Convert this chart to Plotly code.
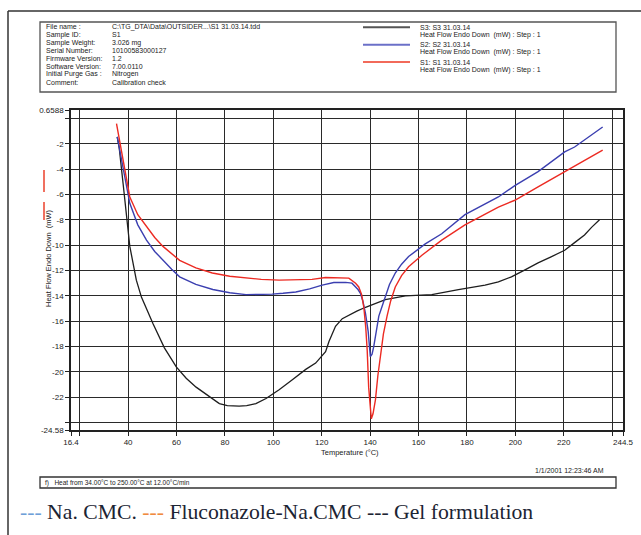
import plotly.graph_objects as go

# ---------------- data ----------------
s1_temp = [35.2, 36.5, 38, 40.7, 44, 47.6, 51, 54.4, 58, 61.3, 68, 74.8, 82, 88.7, 95, 102.4, 110, 116,
           121.6, 126, 131.2, 134, 135.3, 136.5, 137.4, 138.2, 138.8, 139.4, 140.0, 140.5, 141.2, 142.2,
           143.2, 144.3, 145.5, 147.0, 148.5, 150.4, 153, 155.9, 161.4, 169.6, 179.2, 193.0, 199.8,
           209.4, 220.4, 224.5, 236.1]
s1_heat = [-0.42, -1.8, -3.5, -6.2, -7.6, -8.56, -9.4, -10.1, -10.7, -11.2, -11.8, -12.2, -12.45, -12.6,
           -12.7, -12.76, -12.75, -12.7, -12.55, -12.55, -12.6, -13.0, -13.3, -13.9, -14.9, -16.5, -18.3,
           -21.2, -23.0, -23.7, -23.3, -22.2, -20.3, -18.5, -17.0, -15.6, -14.4, -13.3, -12.4, -11.7,
           -10.8, -9.6, -8.4, -7.0, -6.46, -5.4, -4.2, -3.8, -2.5]

s2_temp = [35.5, 38, 40.7, 44, 47.6, 51, 54.4, 58, 61.3, 68, 75, 82, 88.7, 95, 99.5, 104, 109.3, 115,
           120.2, 125, 129.9, 132.5, 134, 135, 136, 137, 138.1, 139.2, 140.1, 140.8, 141.5, 142.5, 143.6,
           145, 146.3, 148, 150.4, 153, 155.9, 162.8, 169.6, 179.2, 193.0, 199.8, 209.4, 220.4, 224.5, 236.1]
s2_heat = [-1.47, -4.1, -6.7, -8.4, -9.6, -10.5, -11.2, -11.9, -12.5, -13.1, -13.5, -13.75, -13.9, -13.9,
           -13.86, -13.8, -13.7, -13.45, -13.15, -12.95, -12.94, -13.0, -13.3, -13.5, -13.8, -14.4, -15.4,
           -16.8, -18.8, -18.6, -18.0, -16.8, -15.6, -14.8, -14.1, -13.1, -12.2, -11.5, -10.9, -9.9, -9.1,
           -7.6, -6.2, -5.3, -4.2, -2.65, -2.26, -0.68]

s3_temp = [35.5, 36.3, 37.9, 39.3, 40.7, 43.4, 45.5, 50.3, 55, 59.9, 64, 68.1, 73, 77.7, 81, 85.9, 89,
           92.8, 97, 102.4, 108, 113.4, 117.5, 121.6, 123, 125.7, 128.5, 131.2, 134.5, 138.1, 142, 146.3,
           154.6, 165.5, 176.5, 187.5, 193, 198.4, 204, 209.4, 215, 220.4, 224.5, 228.6, 231.5, 234.8]
s3_heat = [-1.47, -2.3, -5.1, -7.8, -10.1, -12.76, -14.1, -16.2, -18.1, -19.6, -20.5, -21.2, -21.9, -22.5,
           -22.65, -22.7, -22.65, -22.5, -22.1, -21.4, -20.6, -19.8, -19.3, -18.4, -17.6, -16.4, -15.8,
           -15.5, -15.2, -14.9, -14.6, -14.3, -14.0, -13.9, -13.5, -13.15, -12.9, -12.5, -11.95, -11.4,
           -10.9, -10.4, -9.8, -9.2, -8.6, -8.0]

x_tickvals = [16.4, 20, 40, 60, 80, 100, 120, 140, 160, 180, 200, 220, 240, 244.5]
x_ticktext = ["16.4", "", "40", "60", "80", "100", "120", "140", "160", "180", "200", "220", "", "244.5"]
y_tickvals = [0.6588, 0, -2, -4, -6, -8, -10, -12, -14, -16, -18, -20, -22, -24, -24.58]
y_ticktext = ["0.6588", "", "-2", "-4", "-6", "-8", "-10", "-12", "-14", "-16", "-18", "-20", "-22", "", "-24.58"]

info_labels = ["File name :", "Sample ID:", "Sample Weight:", "Serial Number:", "Firmware Version:",
               "Software Version:", "Initial Purge Gas :", "Comment:"]
info_values = ["C:\\TG_DTA\\Data\\OUTSIDER...\\S1 31.03.14.tdd", "S1", "3.026 mg", "10100583000127", "1.2",
               "7.00.0110", "Nitrogen", "Calibration check"]
legend_names = ["S3: S3 31.03.14", "S2: S2 31.03.14", "S1: S1 31.03.14"]
legend_sub = "Heat Flow Endo Down  (mW) : Step : 1"

# ---------------- layout helpers ----------------
W, H = 641, 535
L, R, T, B = 71, 623, 110, 430


def px(x):
    return (x - L) / (R - L)


def py(y):
    return (B - y) / (B - T)


FONT = "Liberation Sans"
SERIF = "Liberation Serif"
fig = go.Figure()
fig.add_trace(go.Scatter(x=s3_temp, y=s3_heat, mode="lines", name="S3",
                         line=dict(color="#1e1e1e", width=1.3)))
fig.add_trace(go.Scatter(x=s2_temp, y=s2_heat, mode="lines", name="S2",
                         line=dict(color="#3b3fb0", width=1.4)))
fig.add_trace(go.Scatter(x=s1_temp, y=s1_heat, mode="lines", name="S1",
                         line=dict(color="#ec2a22", width=1.4)))

shapes = []
# outer frame
shapes.append(dict(type="line", xref="paper", yref="paper", x0=px(8), x1=px(641), y0=py(11), y1=py(11),
                   line=dict(color="#333", width=1.5)))
shapes.append(dict(type="line", xref="paper", yref="paper", x0=px(8), x1=px(8), y0=py(11), y1=py(535),
                   line=dict(color="#333", width=1.5)))
# info box
shapes.append(dict(type="rect", xref="paper", yref="paper", x0=px(40), x1=px(616), y0=py(92), y1=py(22),
                   line=dict(color="#555", width=1.3)))
# bottom box
shapes.append(dict(type="rect", xref="paper", yref="paper", x0=px(40), x1=px(616), y0=py(488), y1=py(477),
                   line=dict(color="#333", width=1.3)))
# legend swatches
for yy, col in zip([27.3, 44.7, 62], ["#555555", "#6b70c8", "#f26a5a"]):
    shapes.append(dict(type="line", xref="paper", yref="paper", x0=px(363), x1=px(410), y0=py(yy), y1=py(yy),
                       line=dict(color=col, width=2)))
# red dashes on left
for y0, y1 in [(170, 192), (202, 220)]:
    shapes.append(dict(type="line", xref="paper", yref="paper", x0=px(44), x1=px(44), y0=py(y0), y1=py(y1),
                       line=dict(color="#f07060", width=2)))

ann = []
for i, (lab, val) in enumerate(zip(info_labels, info_values)):
    yy = 26.7 + i * 7.9
    ann.append(dict(x=px(44), y=py(yy), text=lab, xanchor="left", yanchor="middle"))
    ann.append(dict(x=px(110), y=py(yy), text=val, xanchor="left", yanchor="middle"))
for i, name in enumerate(legend_names):
    y0 = 27.3 + i * 17.35
    ann.append(dict(x=px(418), y=py(y0), text=name, xanchor="left", yanchor="middle"))
    ann.append(dict(x=px(418), y=py(y0 + 7.7), text=legend_sub, xanchor="left", yanchor="middle"))
for a in ann:
    a.update(xref="paper", yref="paper", showarrow=False, font=dict(family=FONT, size=7, color="#222"))

ann.append(dict(x=px(48), y=py(258), text="Heat Flow Endo Down  (mW)", textangle=-90, xref="paper",
                yref="paper", showarrow=False, xanchor="center", yanchor="middle",
                font=dict(family=FONT, size=7.5, color="#222")))
ann.append(dict(x=px(350), y=py(452), text="Temperature (°C)", xref="paper", yref="paper", showarrow=False,
                xanchor="center", yanchor="middle", font=dict(family=FONT, size=7.5, color="#222")))
ann.append(dict(x=px(606), y=py(470), text="1/1/2001 12:23:46 AM", xref="paper", yref="paper",
                showarrow=False, xanchor="right", yanchor="middle", font=dict(family=FONT, size=7, color="#222")))
ann.append(dict(x=px(43), y=py(482.5), text="f)   Heat from 34.00°C to 250.00°C at 12.00°C/min", xref="paper",
                yref="paper", showarrow=False, xanchor="left", yanchor="middle",
                font=dict(family=FONT, size=6.5, color="#222")))
ann.append(dict(x=px(18), y=py(512), xref="paper", yref="paper", showarrow=False, xanchor="left",
                yanchor="middle",
                text='<span style="color:#6f9fd8">---</span> Na. CMC. <span style="color:#f08a40">---</span> '
                     'Fluconazole-Na.CMC --- Gel formulation',
                font=dict(family=SERIF, size=21.7, color="#1c2433")))

axis_common = dict(showline=True, mirror=True, linecolor="#222", linewidth=1.5, showgrid=True,
                   gridcolor="#2a2a2a", gridwidth=1.3, zeroline=False, ticks="outside", ticklen=4,
                   tickcolor="#222", tickwidth=1.3, tickfont=dict(family=FONT, size=8, color="#222"))
fig.update_xaxes(range=[16.4, 244.5], tickmode="array", tickvals=x_tickvals, ticktext=x_ticktext, **axis_common)
fig.update_yaxes(range=[-24.58, 0.6588], tickmode="array", tickvals=y_tickvals, ticktext=y_ticktext,
                 **axis_common)

fig.update_layout(width=W, height=H, margin=dict(l=L, r=W - R, t=T, b=H - B, autoexpand=False),
                  paper_bgcolor="white", plot_bgcolor="white", showlegend=False,
                  font=dict(family=FONT),
                  shapes=shapes, annotations=ann)

fig.write_html("out.html")
